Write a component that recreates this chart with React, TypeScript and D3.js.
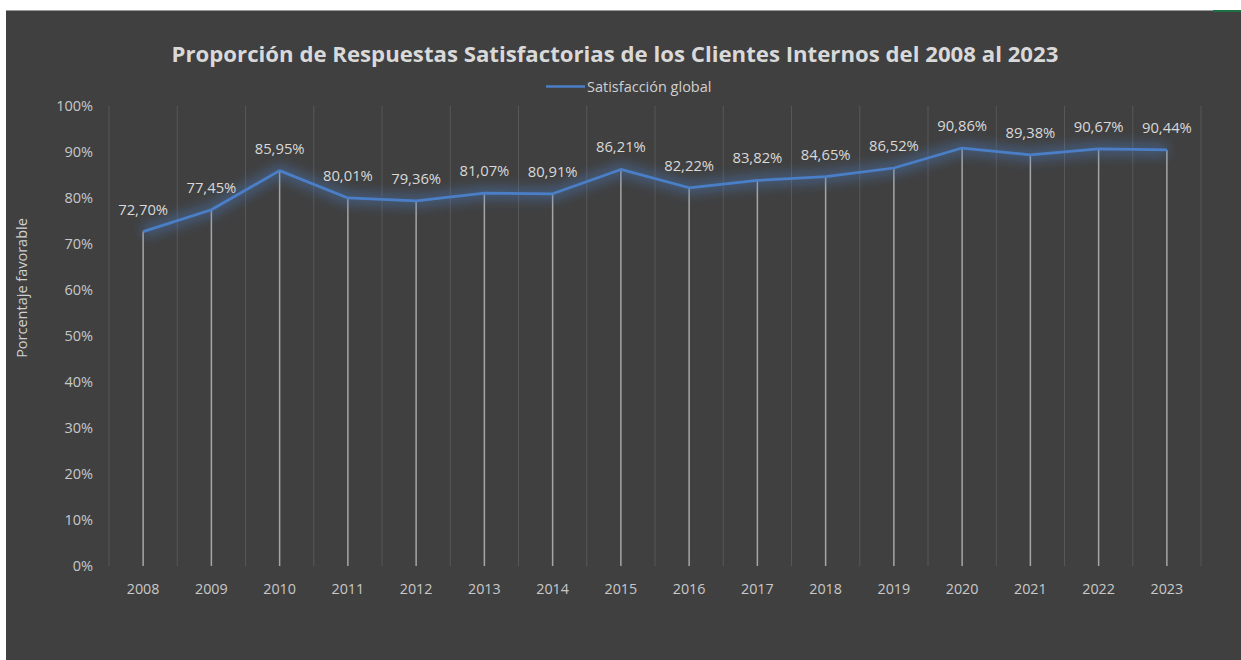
import React from "react";
import * as d3 from "d3";

const years = ["2008","2009","2010","2011","2012","2013","2014","2015","2016","2017","2018","2019","2020","2021","2022","2023"];
const satisfaction = [72.70,77.45,85.95,80.01,79.36,81.07,80.91,86.21,82.22,83.82,84.65,86.52,90.86,89.38,90.67,90.44];
const yTicks = [0,10,20,30,40,50,60,70,80,90,100];
const title = "Proporción de Respuestas Satisfactorias de los Clientes Internos del 2008 al 2023";
const seriesName = "Satisfacción global";
const yAxisTitle = "Porcentaje favorable";

const W = 1241, H = 660;
const FONT = "'Open Sans', sans-serif";

export default function App() {
  const x = d3.scaleBand<string>().domain(years).range([109, 1201]);
  const y = d3.scaleLinear().domain([0, 100]).range([566, 106]);
  const cx = (d: string) => (x(d) as number) + x.bandwidth() / 2;
  const line = d3.line<number>().x((_, i) => cx(years[i])).y((v) => y(v));
  const path = line(satisfaction) || "";
  const fmt = (v: number) => v.toFixed(2).replace(".", ",") + "%";
  const gridXs = years.map((d) => x(d) as number).concat([1201]);

  return (
    <svg width={W} height={H} style={{ position: "absolute", left: 0, top: 0, display: "block" }}>
      <defs>
        <filter id="glow" x="-10%" y="-50%" width="120%" height="200%">
          <feGaussianBlur stdDeviation="6" />
        </filter>
      </defs>
      <rect x={0} y={0} width={W} height={H} fill="#ffffff" />
      <rect x={6} y={10} width={W - 6} height={H - 10} fill="#404040" />
      <line x1={6} x2={1213} y1={10.5} y2={10.5} stroke="#9a9a9a" strokeWidth={1} />
      <line x1={1213} x2={W} y1={11} y2={11} stroke="#1e7145" strokeWidth={2} />

      <text x={615} y={62} textAnchor="middle" fill="#d9d9d9" fontFamily={FONT} fontWeight={700} fontSize={22.2}>
        {title}
      </text>

      <line x1={546} x2={585} y1={86.5} y2={86.5} stroke="#4a7fc8" strokeWidth={2.5} />
      <text x={587} y={91.5} fill="#d0d0d0" fontFamily={FONT} fontSize={14.5}>{seriesName}</text>

      <text transform={`translate(27,288) rotate(-90)`} textAnchor="middle" fill="#d0d0d0" fontFamily={FONT} fontSize={14.5}>
        {yAxisTitle}
      </text>

      {gridXs.map((gx, i) => (
        <line key={"g" + i} x1={gx} x2={gx} y1={106} y2={566} stroke="#575757" strokeWidth={1} />
      ))}

      {yTicks.map((t) => (
        <text key={"yt" + t} x={93} y={y(t) + 5} textAnchor="end" fill="#c8c8c8" fontFamily={FONT} fontSize={14.5}>
          {t + "%"}
        </text>
      ))}

      {years.map((d, i) => (
        <line key={"dl" + d} x1={cx(d)} x2={cx(d)} y1={y(satisfaction[i])} y2={566} stroke="#a6a6a6" strokeWidth={1.5} />
      ))}

      {years.map((d) => (
        <text key={"xt" + d} x={cx(d)} y={594} textAnchor="middle" fill="#c8c8c8" fontFamily={FONT} fontSize={14.3}>
          {d}
        </text>
      ))}

      <path d={path} fill="none" stroke="#4a7fc8" strokeOpacity={0.45} strokeWidth={12} filter="url(#glow)" />
      <path d={path} fill="none" stroke="#4a7fc8" strokeWidth={2.75} strokeLinejoin="round" />

      {years.map((d, i) => (
        <text key={"lb" + d} x={cx(d)} y={y(satisfaction[i]) - 17} textAnchor="middle" fill="#d9d9d9" fontFamily={FONT} fontSize={14.8}>
          {fmt(satisfaction[i])}
        </text>
      ))}
    </svg>
  );
}
